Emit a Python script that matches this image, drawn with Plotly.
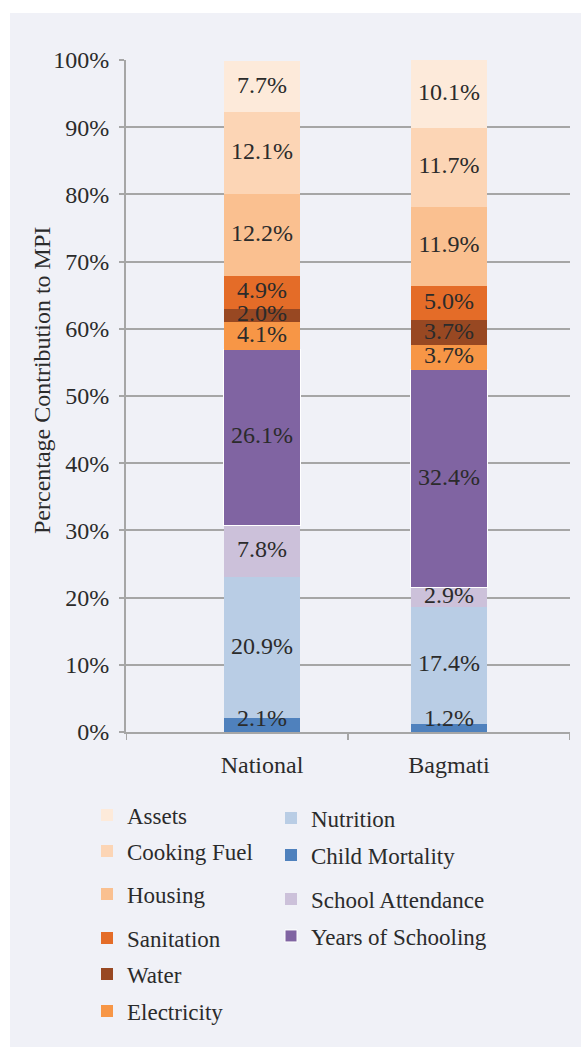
import plotly.graph_objects as go

categories = ["National", "Bagmati"]
series_names = ["Child Mortality", "Nutrition", "School Attendance", "Years of Schooling",
                "Electricity", "Water", "Sanitation", "Housing", "Cooking Fuel", "Assets"]
national = [2.1, 20.9, 7.8, 26.1, 4.1, 2.0, 4.9, 12.2, 12.1, 7.7]
bagmati = [1.2, 17.4, 2.9, 32.4, 3.7, 3.7, 5.0, 11.9, 11.7, 10.1]
colors = ["#4f81bd", "#b9cde5", "#ccc1da", "#8064a2",
          "#f79646", "#984822", "#e46c28", "#fac090", "#fcd5b5", "#fdeada"]
y_ticks = [0, 10, 20, 30, 40, 50, 60, 70, 80, 90, 100]
y_tick_labels = ["0%", "10%", "20%", "30%", "40%", "50%", "60%", "70%", "80%", "90%", "100%"]
y_title = "Percentage Contribution to MPI"

W, H = 581, 1047
L, R, T, B = 126, 11, 60, 315
PW, PH = W - L - R, H - T - B

def px_x(p):
    return (p - L) / PW

def px_y(p):
    return (H - B - p) / PH

FONT = "Liberation Serif"
TXT = "#2b2b2b"
GRID = "#a6a6a6"
MIN_LABEL_Y = 1.8  # keep labels of tiny bottom segments above the axis (as Excel does)

# legend placement (text-left pixel x, item-centre pixel y)
legend_pos = {
    "Assets": (127, 815), "Cooking Fuel": (127, 851), "Housing": (127, 894),
    "Sanitation": (127, 938), "Water": (127, 974), "Electricity": (127, 1011),
    "Nutrition": (311, 818), "Child Mortality": (311, 855),
    "School Attendance": (311, 899), "Years of Schooling": (311, 936),
}

fig = go.Figure()
layout_legends = {}
for i, name in enumerate(series_names):
    lname = "legend" if i == 0 else f"legend{i+1}"
    fig.add_trace(go.Bar(
        x=categories, y=[national[i], bagmati[i]], name=name,
        marker=dict(color=colors[i],
                    line=dict(color="white", width=1 if name == "Years of Schooling" else 0)),
        width=0.41, textposition="none", hoverinfo="name+y",
        legend=lname,
    ))
    tx, ty = legend_pos[name]
    layout_legends[lname] = dict(
        x=px_x(tx - 40), y=px_y(ty), xanchor="left", yanchor="middle",
        bgcolor="rgba(0,0,0,0)", font=dict(family=FONT, size=23, color=TXT),
    )

# data labels at the middle of each stacked segment
lab_x, lab_y, lab_t = [], [], []
for cat, vals in zip(categories, [national, bagmati]):
    base = 0.0
    for v in vals:
        lab_x.append(cat)
        lab_y.append(max(base + v / 2, MIN_LABEL_Y))
        lab_t.append(f"{v:.1f}%")
        base += v
fig.add_trace(go.Scatter(
    x=lab_x, y=lab_y, text=lab_t, mode="text", textposition="middle center",
    textfont=dict(family=FONT, size=24, color=TXT), showlegend=False,
    cliponaxis=False, hoverinfo="skip",
))

shapes = [
    dict(type="rect", xref="paper", yref="paper", x0=px_x(10), x1=px_x(W + 5),
         y0=px_y(13), y1=px_y(H + 5), fillcolor="#f0f1f7", line=dict(width=0), layer="below"),
]
# x-axis tick marks (category boundaries)
for xv in [-0.727, 0.46, 1.647]:
    shapes.append(dict(type="line", xref="x", yref="paper", x0=xv, x1=xv,
                       y0=0, y1=-8 / PH, line=dict(color=GRID, width=2)))

fig.update_layout(
    width=W, height=H, margin=dict(l=L, r=R, t=T, b=B),
    paper_bgcolor="white", plot_bgcolor="rgba(0,0,0,0)",
    barmode="stack", shapes=shapes,
    font=dict(family=FONT, size=24, color=TXT),
    xaxis=dict(range=[-0.727, 1.647], showline=True, linecolor=GRID, linewidth=2,
               ticks="", showgrid=False, tickfont=dict(family=FONT, size=24, color=TXT),
               ticklabelstandoff=10, fixedrange=True),
    yaxis=dict(range=[0, 100], tickvals=y_ticks, ticktext=y_tick_labels, showgrid=True,
               gridcolor=GRID, gridwidth=1.75, zeroline=False, showline=True,
               linecolor=GRID, linewidth=2, ticks="outside", ticklen=5, tickcolor=GRID,
               tickwidth=2, ticklabelstandoff=5,
               tickfont=dict(family=FONT, size=24, color=TXT)),
    annotations=[dict(text=y_title, textangle=-90, xref="paper", yref="paper",
                      x=px_x(42), y=px_y(381), xanchor="center", yanchor="middle",
                      showarrow=False, font=dict(family=FONT, size=24, color=TXT))],
    showlegend=True,
    **layout_legends,
)

fig.write_html("out.html", config={"displayModeBar": False},
               post_script="document.body.style.margin='0';document.body.style.padding='0';")
